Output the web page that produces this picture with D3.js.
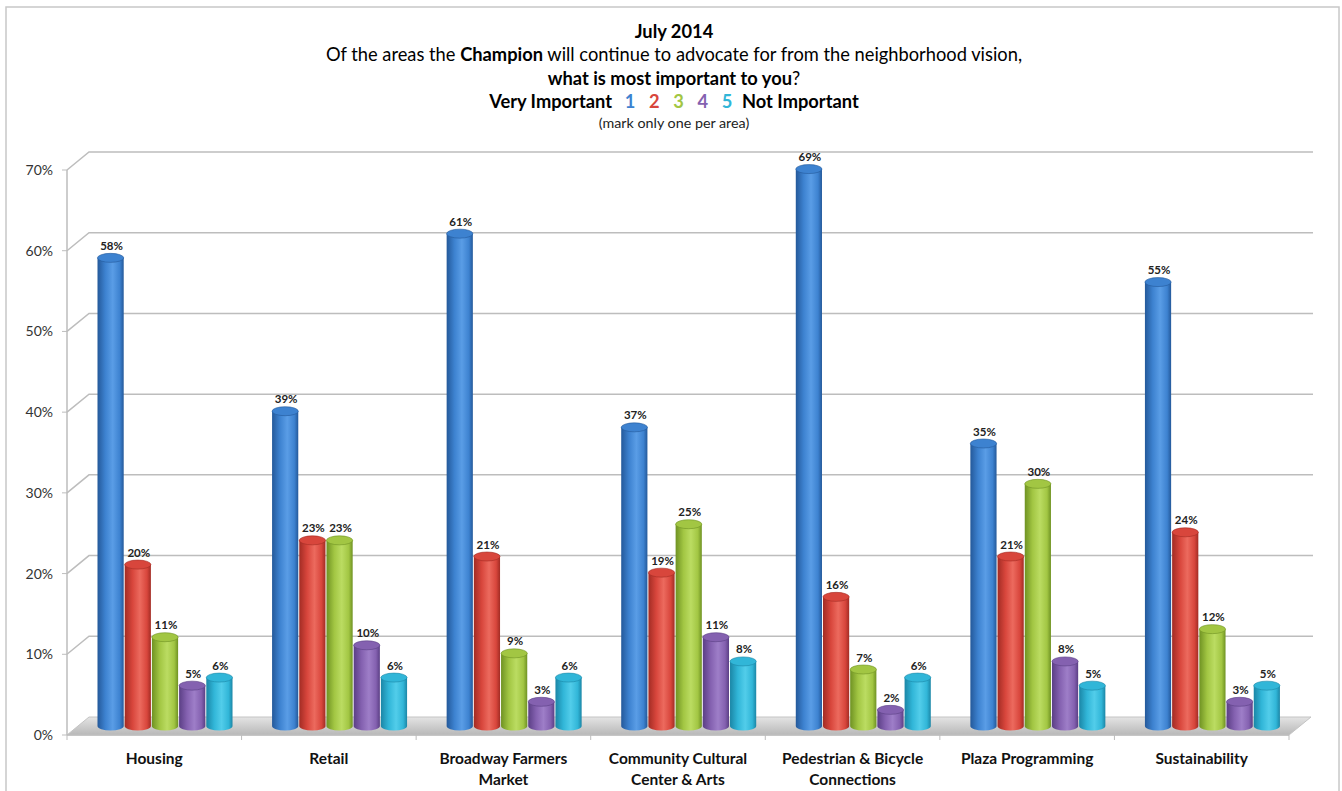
<!DOCTYPE html>
<html>
<head>
<meta charset="utf-8">
<script src="https://cdn.jsdelivr.net/npm/d3@7"></script>
<style>
  body { margin: 0; background: #fff; }
  text { font-family: Lato, "Open Sans", sans-serif; }
</style>
</head>
<body>
<div id="chart"></div>
<script>
// categories and series (values in %)
const categories = [
    ["Housing"],
    ["Retail"],
    ["Broadway Farmers", "Market"],
    ["Community Cultural", "Center & Arts"],
    ["Pedestrian & Bicycle", "Connections"],
    ["Plaza Programming"],
    ["Sustainability"]
];
const seriesNames = ["1", "2", "3", "4", "5"];
const rating1 = [58, 39, 61, 37, 69, 35, 55];
const rating2 = [20, 23, 21, 19, 16, 21, 24];
const rating3 = [11, 23, 9, 25, 7, 30, 12];
const rating4 = [5, 10, 3, 11, 2, 8, 3];
const rating5 = [6, 6, 6, 8, 6, 5, 5];
const yTicks = [0, 10, 20, 30, 40, 50, 60, 70];

const series = [rating1, rating2, rating3, rating4, rating5];
const colors = [
    { base: "#3d82d0", dark: "#24599a", light: "#5a9de6" },
    { base: "#d8463c", dark: "#a22c24", light: "#ec6a5e" },
    { base: "#a2c643", dark: "#6f9223", light: "#bbdc62" },
    { base: "#8461b0", dark: "#5b3f85", light: "#9e7ec8" },
    { base: "#31b6d8", dark: "#1b86a6", light: "#52cdea" }
];

const width = 1342, height = 791;
const svg = d3.select("#chart").append("svg")
    .attr("width", width)
    .attr("height", height);

// outer frame
svg.append("rect")
    .attr("x", 6).attr("y", 7)
    .attr("width", 1333).attr("height", 800)
    .attr("fill", "none")
    .attr("stroke", "#c8c8c8")
    .attr("stroke-width", 1.5);

// 3d depth offsets
const depthX = 22, depthY = -18;

const x0 = d3.scaleBand()
    .domain(d3.range(categories.length))
    .range([67, 1289]);

const x1 = d3.scaleBand()
    .domain(d3.range(series.length))
    .range([19, 155]);

const y = d3.scaleLinear()
    .domain([0, 70])
    .range([735, 170]);

// gradients
const defs = svg.append("defs");
colors.forEach((c, i) => {
    const g = defs.append("linearGradient")
        .attr("id", "cyl" + i)
        .attr("x1", "0%").attr("x2", "100%")
        .attr("y1", "0%").attr("y2", "0%");
    g.append("stop").attr("offset", "0%").attr("stop-color", c.dark);
    g.append("stop").attr("offset", "30%").attr("stop-color", c.base);
    g.append("stop").attr("offset", "58%").attr("stop-color", c.light);
    g.append("stop").attr("offset", "85%").attr("stop-color", c.base);
    g.append("stop").attr("offset", "100%").attr("stop-color", c.dark);
});
const floorGrad = defs.append("linearGradient")
    .attr("id", "floor")
    .attr("x1", "0%").attr("x2", "0%")
    .attr("y1", "0%").attr("y2", "100%");
floorGrad.append("stop").attr("offset", "0%").attr("stop-color", "#e4e4e4");
floorGrad.append("stop").attr("offset", "100%").attr("stop-color", "#b8b8b8");

// gridlines on back wall with diagonal on side wall
const grid = svg.append("g");
yTicks.filter(t => t > 0).forEach(t => {
    grid.append("path")
        .attr("d", `M67,${y(t)} L${67 + depthX},${y(t) + depthY} L1313,${y(t) + depthY}`)
        .attr("fill", "none")
        .attr("stroke", "#bdbdbd")
        .attr("stroke-width", 1.5);
});

// floor
const x0min = 67, x0max = 1289;
svg.append("path")
    .attr("d", `M${x0min},${y(0)} L${x0min + depthX},${y(0) + depthY} L${x0max + depthX},${y(0) + depthY} L${x0max},${y(0)} Z`)
    .attr("fill", "url(#floor)")
    .attr("stroke", "#c4c4c4");

// y axis
const axisG = svg.append("g");
axisG.append("line")
    .attr("x1", 67).attr("x2", 67)
    .attr("y1", y(70)).attr("y2", y(0))
    .attr("stroke", "#bdbdbd").attr("stroke-width", 1.5);
axisG.selectAll("line.tick")
    .data(yTicks)
    .join("line")
    .attr("class", "tick")
    .attr("x1", 62).attr("x2", 67)
    .attr("y1", d => y(d)).attr("y2", d => y(d))
    .attr("stroke", "#bdbdbd");
axisG.selectAll("text")
    .data(yTicks)
    .join("text")
    .attr("x", 53)
    .attr("y", d => y(d) + 5)
    .attr("text-anchor", "end")
    .attr("font-size", 14)
    .attr("fill", "#333")
    .text(d => d + "%");

// x axis line and category ticks
svg.append("line")
    .attr("x1", 67).attr("x2", 1289)
    .attr("y1", y(0)).attr("y2", y(0))
    .attr("stroke", "#bdbdbd").attr("stroke-width", 1.5);
svg.selectAll("line.cat")
    .data(d3.range(categories.length + 1))
    .join("line")
    .attr("class", "cat")
    .attr("x1", d => 67 + d * x0.bandwidth())
    .attr("x2", d => 67 + d * x0.bandwidth())
    .attr("y1", y(0)).attr("y2", y(0) + 5)
    .attr("stroke", "#bdbdbd");

// category labels
svg.selectAll("text.cat")
    .data(categories)
    .join("text")
    .attr("class", "cat")
    .attr("text-anchor", "middle")
    .attr("font-size", 15.5)
    .attr("font-weight", "bold")
    .attr("fill", "#111")
    .each(function(d, i) {
        d3.select(this).selectAll("tspan")
            .data(d)
            .join("tspan")
            .attr("x", x0(i) + x0.bandwidth() / 2)
            .attr("y", (l, j) => 764 + j * 21)
            .text(l => l);
    });

// bars as cylinders
const ry = 4.5;
const bars = [];
categories.forEach((c, i) => {
    series.forEach((s, k) => {
        bars.push({ cat: i, ser: k, value: s[i] });
    });
});
const barG = svg.append("g")
    .attr("transform", `translate(${depthX / 2},${depthY / 2})`);

const cyl = barG.selectAll("g.bar")
    .data(bars)
    .join("g")
    .attr("class", "bar");

const bx = d => x0(d.cat) + x1(d.ser) + 0.5;
const bw = x1.bandwidth() - 1;

cyl.append("path")
    .attr("d", d => {
        const l = bx(d), r = l + bw, top = y(d.value), bot = y(0);
        return `M${l},${top} L${l},${bot} A${bw / 2},${ry} 0 0 0 ${r},${bot} L${r},${top} Z`;
    })
    .attr("fill", d => `url(#cyl${d.ser})`);

cyl.append("ellipse")
    .attr("cx", d => bx(d) + bw / 2)
    .attr("cy", d => y(d.value))
    .attr("rx", bw / 2)
    .attr("ry", ry)
    .attr("fill", d => colors[d.ser].base)
    .attr("stroke", d => colors[d.ser].dark)
    .attr("stroke-width", 0.6);

cyl.append("text")
    .attr("x", d => bx(d) + bw / 2 + 1)
    .attr("y", d => y(d.value) - 8)
    .attr("text-anchor", "middle")
    .attr("font-size", 11.5)
    .attr("font-weight", "bold")
    .attr("fill", "#222")
    .text(d => d.value + "%");

// titles
const cx = 674;
svg.append("text")
    .attr("x", cx).attr("y", 38)
    .attr("text-anchor", "middle")
    .attr("font-size", 18.3).attr("font-weight", "bold")
    .text("July 2014");

const t2 = svg.append("text")
    .attr("x", cx).attr("y", 61)
    .attr("text-anchor", "middle")
    .attr("font-size", 18.3);
t2.append("tspan").text("Of the areas the ");
t2.append("tspan").attr("font-weight", "bold").text("Champion");
t2.append("tspan").text(" will continue to advocate for from the neighborhood vision,");

const t3 = svg.append("text")
    .attr("x", cx).attr("y", 85)
    .attr("text-anchor", "middle")
    .attr("font-size", 18.3);
t3.append("tspan").attr("font-weight", "bold").text("what is most important to you");
t3.append("tspan").text("?");

// legend line: labels with coloured rating numbers
const legendG = svg.append("g")
    .attr("font-size", 18.3)
    .attr("font-weight", "bold");
legendG.append("text")
    .attr("x", 612).attr("y", 108)
    .attr("text-anchor", "end")
    .text("Very Important");
const legendX = d3.scalePoint()
    .domain(seriesNames)
    .range([630, 727]);
legendG.selectAll("text.num")
    .data(seriesNames)
    .join("text")
    .attr("class", "num")
    .attr("x", d => legendX(d))
    .attr("y", 108)
    .attr("text-anchor", "middle")
    .attr("fill", (d, k) => colors[k].base)
    .text(d => d);
legendG.append("text")
    .attr("x", 742).attr("y", 108)
    .text("Not Important");

svg.append("text")
    .attr("x", cx).attr("y", 128)
    .attr("text-anchor", "middle")
    .attr("font-size", 14.3)
    .attr("fill", "#222")
    .text("(mark only one per area)");
</script>
</body>
</html>
